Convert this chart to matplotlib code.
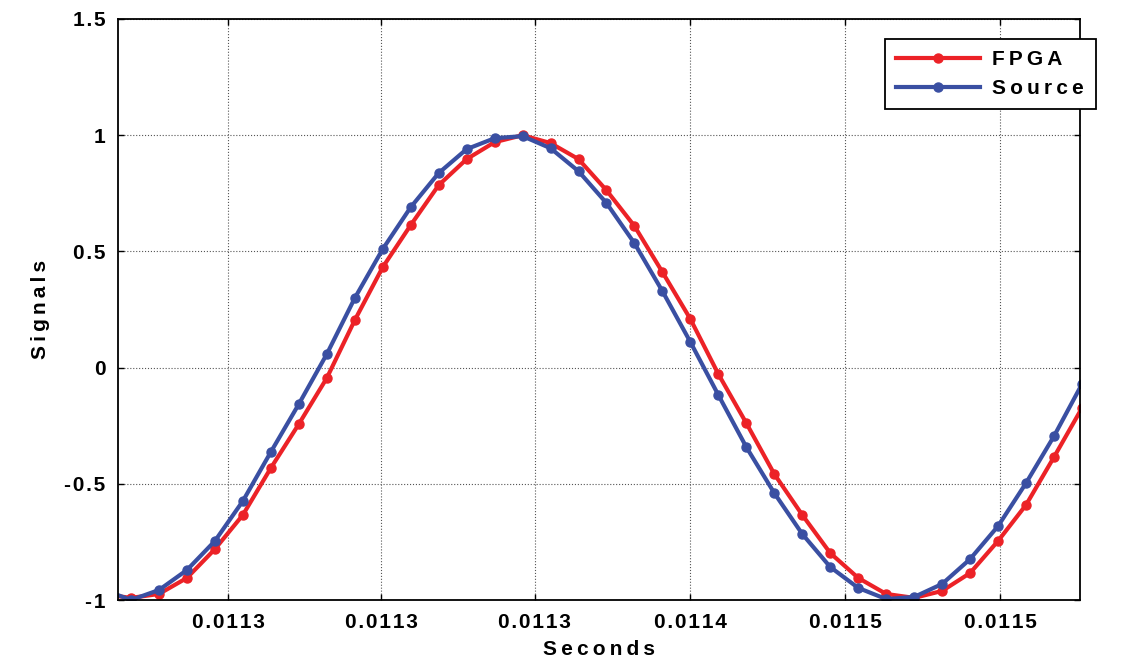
import numpy as np
import matplotlib
matplotlib.use("Agg")
import matplotlib.pyplot as plt

plt.rcParams['font.family'] = ['Liberation Sans', 'DejaVu Sans']
plt.rcParams['font.weight'] = 'bold'

# sampling grid (seconds)
t0 = 0.01125
dt = 5e-6
k = np.arange(-1, 35)
t = t0 + dt * k

fpga = [-0.975, -0.991, -0.974, -0.905, -0.781, -0.634, -0.432, -0.243, -0.045, 0.204,
        0.432, 0.613, 0.785, 0.897, 0.970, 1.000, 0.966, 0.897, 0.763, 0.609,
        0.411, 0.209, -0.028, -0.239, -0.458, -0.634, -0.798, -0.905, -0.974, -0.991,
        -0.961, -0.884, -0.746, -0.591, -0.385, -0.174]
source = [-0.955, -1.000, -0.957, -0.871, -0.746, -0.574, -0.363, -0.157, 0.058, 0.299,
          0.510, 0.690, 0.837, 0.940, 0.987, 0.996, 0.944, 0.845, 0.708, 0.535,
          0.329, 0.110, -0.118, -0.342, -0.540, -0.716, -0.858, -0.948, -0.996, -0.987,
          -0.931, -0.824, -0.682, -0.497, -0.295, -0.071]

xtick_pos = [0.01126734, 0.01129469, 0.0113222, 0.01134995, 0.01137765, 0.01140535]
xtick_lab = ["0.0113", "0.0113", "0.0113", "0.0114", "0.0115", "0.0115"]
ytick_pos = [-1, -0.5, 0, 0.5, 1, 1.5]
ytick_lab = ["-1", "-0.5", "0", "0.5", "1", "1.5"]


def sp(s, gap="\u2009"):
    # MATLAB-ish wide letter spacing
    return gap.join(s)


fs = 15
fig = plt.figure(figsize=(11.38, 6.61), dpi=100)
ax = fig.add_axes([118/1138, 1-600/661, (1080-118)/1138, (600-19)/661])

red = '#ec2227'
blue = '#3a4fa2'
ax.plot(t, fpga, '-o', color=red, lw=3, ms=6.5, label=sp("FPGA"))
ax.plot(t, source, '-o', color=blue, lw=3, ms=6.5, label=sp("Source"))

ax.set_xlim(t0 - 0.465*dt, t0 + 33.93*dt)
ax.set_ylim(-1, 1.5)
ax.set_xticks(xtick_pos)
ax.set_xticklabels([sp(s, "\u200a") for s in xtick_lab])
ax.set_yticks(ytick_pos)
ax.set_yticklabels([sp(s, "\u200a") for s in ytick_lab])
ax.tick_params(direction='in', length=4, width=1, top=True, right=True,
               labelsize=fs, pad=9)
ax.grid(True, ls=':', color='#555555', lw=0.8)
for s in ax.spines.values():
    s.set_linewidth(1.3)

ax.set_xlabel(sp("Seconds"), fontsize=fs, fontweight='bold', labelpad=6)
ax.set_ylabel(sp("Signals"), fontsize=fs, fontweight='bold', labelpad=10)

leg = ax.legend(loc='upper left', bbox_to_anchor=(885/1138, 1-39/661),
                bbox_transform=fig.transFigure, borderaxespad=0, fontsize=fs,
                handlelength=4.0, handletextpad=0.6, borderpad=0.55,
                labelspacing=0.45, fancybox=False, edgecolor='black', framealpha=1)
leg.get_frame().set_linewidth(1.3)

fig.savefig("out.png", dpi=100)
